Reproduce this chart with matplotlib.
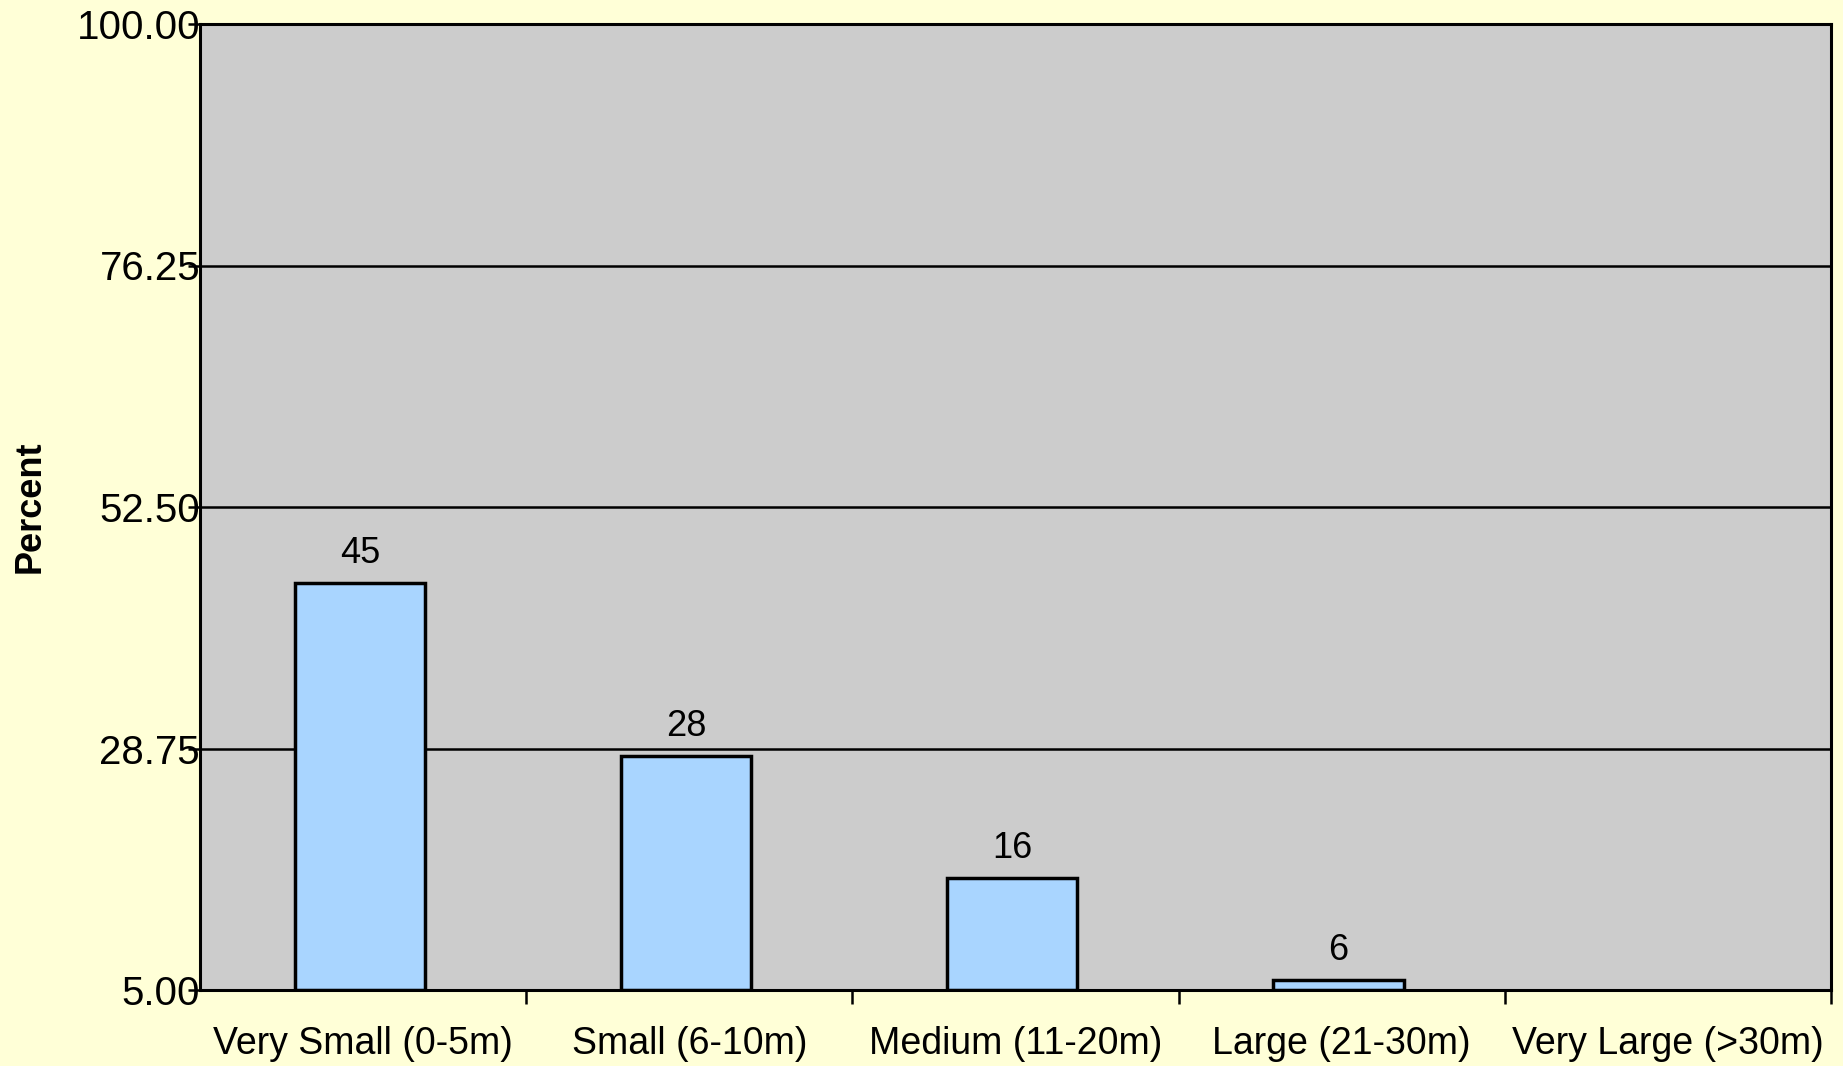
import numpy as np
import matplotlib
matplotlib.use('Agg')
import matplotlib.pyplot as plt

plt.rcParams['font.family'] = ['Liberation Sans', 'DejaVu Sans']

categories = ['Very Small (0-5m)', 'Small (6-10m)', 'Medium (11-20m)',
              'Large (21-30m)', 'Very Large (>30m)']
percent = [45, 28, 16, 6, None]
y_ticks = [5.00, 28.75, 52.50, 76.25, 100.00]

base = y_ticks[0]


def main():
    fig = plt.figure(figsize=(18.43, 10.66), dpi=100, facecolor='#FFFFD7')
    ax = fig.add_axes([200 / 1843, 1 - 990 / 1066, 1631 / 1843, 966 / 1066])
    ax.set_facecolor('#CCCCCC')

    x = np.arange(len(categories))
    for xi, v in zip(x, percent):
        if v is None:
            continue
        ax.bar(xi - 0.01, v - base, bottom=base, width=0.4, color='#A9D5FF',
               edgecolor='black', linewidth=2.5, zorder=3)
        ax.text(xi - 0.01, v + 1.2, str(v), ha='center', va='bottom', fontsize=26, zorder=4)

    for t in y_ticks[1:]:
        ax.axhline(t, color='black', linewidth=1.8, zorder=1)

    ax.set_xlim(-0.5, len(categories) - 0.5)
    ax.set_ylim(y_ticks[0], y_ticks[-1])
    ax.set_yticks(y_ticks)
    ax.set_yticklabels(['%.2f' % t for t in y_ticks])
    ax.tick_params(axis='y', labelsize=29, length=9, width=1.8, pad=-9, direction='out')

    ax.set_xticks(x)
    ax.set_xticklabels(categories)
    ax.tick_params(axis='x', which='major', labelsize=27, length=0, pad=26)
    ax.set_xticks(np.arange(0.5, len(categories), 1.0), minor=True)
    ax.tick_params(axis='x', which='minor', length=10, width=1.8, direction='out')

    for s in ax.spines.values():
        s.set_color('black')
        s.set_linewidth(2.2)
        s.set_zorder(5)

    ax.set_ylabel('Percent', fontsize=26, fontweight='bold', labelpad=0)
    ax.yaxis.set_label_coords(-152 / 1631, 0.5)

    fig.savefig('out.png', dpi=100, facecolor=fig.get_facecolor())


if __name__ == '__main__':
    main()
